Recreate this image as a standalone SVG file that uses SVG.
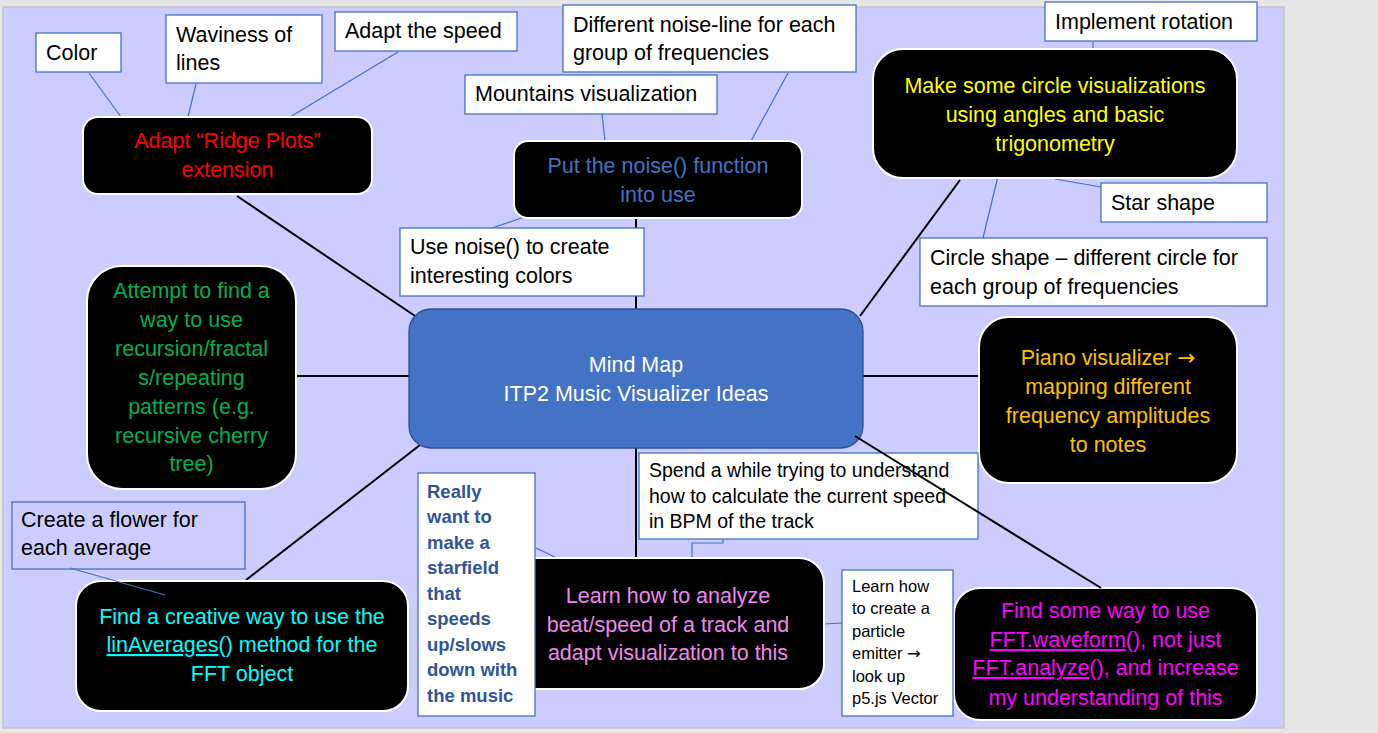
<svg xmlns="http://www.w3.org/2000/svg" width="1378" height="733" viewBox="0 0 1378 733">
<style>
text{font-family:"Liberation Sans",Arial,sans-serif;font-size:21.5px}
.mid{text-anchor:middle}
.blk{fill:#000;stroke:#fff;stroke-width:2}
.box{fill:#fff;stroke:#4472C4;stroke-width:1.3}
.bl{stroke:#000;stroke-width:2;fill:none}
.tl{stroke:#4472C4;stroke-width:1.2;fill:none}
.dark{fill:#000}
.u{text-decoration:underline}
.arr{font-family:"DejaVu Sans",sans-serif}
</style>
<rect x="0" y="0" width="1378" height="733" fill="#E6E6E6"/>
<rect x="3" y="7" width="1281" height="721" fill="#CCCCFF" stroke="#C4C4C4" stroke-width="1.5"/>

<g id="connectors">
<line class="bl" x1="237" y1="196" x2="421" y2="320"/>
<line class="bl" x1="636" y1="218" x2="636" y2="309"/>
<line class="bl" x1="860" y1="316" x2="960" y2="180"/>
<line class="bl" x1="296" y1="376" x2="409" y2="376"/>
<line class="bl" x1="863" y1="376" x2="979" y2="376"/>
<line class="bl" x1="420" y1="445" x2="246" y2="580"/>
<line class="bl" x1="636" y1="448" x2="636" y2="558"/>
<line class="tl" x1="89" y1="73" x2="121" y2="117"/>
<line class="tl" x1="196" y1="84" x2="188" y2="117"/>
<line class="tl" x1="398" y1="52" x2="290" y2="117"/>
<line class="tl" x1="602" y1="114" x2="605" y2="141"/>
<line class="tl" x1="788" y1="73" x2="751" y2="141"/>
<line class="tl" x1="527" y1="216" x2="492" y2="228"/>
<line class="tl" x1="1093" y1="42" x2="1093" y2="50"/>
<line class="tl" x1="1055" y1="179" x2="1101" y2="187"/>
<line class="tl" x1="998" y1="176" x2="983" y2="238"/>
<line class="tl" x1="536" y1="548" x2="557" y2="558"/>
<polyline class="tl" points="723,540 723,543 692,543 692,558"/>
<line class="tl" x1="824" y1="624" x2="842" y2="623"/>
</g>

<g id="center">
<rect x="409" y="309" width="454" height="139" rx="22" fill="#4472C4" stroke="#2F528F" stroke-width="1.3"/>
<text class="mid" x="636" y="372" fill="#fff">Mind Map</text>
<text class="mid" x="636" y="401" fill="#fff">ITP2 Music Visualizer Ideas</text>
</g>

<g id="ridge">
<rect class="blk" x="83" y="117" width="289" height="77" rx="15"/>
<text class="mid" x="227.5" y="148" fill="#FF0000">Adapt “Ridge Plots”</text>
<text class="mid" x="227.5" y="177" fill="#FF0000">extension</text>
</g>

<g id="noise">
<rect class="blk" x="514" y="141" width="288" height="77" rx="14"/>
<text class="mid" x="658" y="173" fill="#4472C4">Put the noise() function</text>
<text class="mid" x="658" y="202" fill="#4472C4">into use</text>
</g>

<g id="circle-viz">
<rect class="blk" x="873" y="49" width="364" height="129" rx="30"/>
<text class="mid" x="1055" y="93" fill="#FFFF00">Make some circle visualizations</text>
<text class="mid" x="1055" y="122" fill="#FFFF00">using angles and basic</text>
<text class="mid" x="1055" y="151" fill="#FFFF00">trigonometry</text>
</g>

<g id="piano">
<rect class="blk" x="979" y="317" width="258" height="166" rx="30"/>
<text class="mid" x="1108" y="365" fill="#FFC000">Piano visualizer <tspan class="arr">→</tspan></text>
<text class="mid" x="1108" y="394" fill="#FFC000">mapping different</text>
<text class="mid" x="1108" y="423" fill="#FFC000">frequency amplitudes</text>
<text class="mid" x="1108" y="452" fill="#FFC000">to notes</text>
</g>

<g id="fft">
<rect class="blk" x="954" y="588" width="303" height="132" rx="26"/>
<text class="mid" x="1105.5" y="618" fill="#FF00FF">Find some way to use</text>
<text class="mid" x="1105.5" y="647" fill="#FF00FF"><tspan class="u">FFT.waveform</tspan>(), not just</text>
<text class="mid" x="1105.5" y="675" fill="#FF00FF"><tspan class="u">FFT.analyze</tspan>(), and increase</text>
<text class="mid" x="1105.5" y="705" fill="#FF00FF">my understanding of this</text>
</g>

<g id="beat">
<rect class="blk" x="512" y="558" width="312" height="131" rx="25"/>
<text class="mid" x="668" y="603" fill="#EE88EE">Learn how to analyze</text>
<text class="mid" x="668" y="632" fill="#EE88EE">beat/speed of a track and</text>
<text class="mid" x="668" y="660" fill="#EE88EE">adapt visualization to this</text>
</g>

<g id="linaverages">
<rect class="blk" x="76" y="581" width="332" height="130" rx="25"/>
<text class="mid" x="242" y="624" fill="#00FFFF">Find a creative way to use the</text>
<text class="mid" x="242" y="652" fill="#00FFFF"><tspan class="u">linAverages</tspan>() method for the</text>
<text class="mid" x="242" y="681" fill="#00FFFF">FFT object</text>
</g>

<g id="recursion">
<rect class="blk" x="87" y="266" width="209" height="223" rx="35"/>
<text class="mid" x="191.5" y="298" fill="#00B050">Attempt to find a</text>
<text class="mid" x="191.5" y="327" fill="#00B050">way to use</text>
<text class="mid" x="191.5" y="356" fill="#00B050">recursion/fractal</text>
<text class="mid" x="191.5" y="385" fill="#00B050">s/repeating</text>
<text class="mid" x="191.5" y="414" fill="#00B050">patterns (e.g.</text>
<text class="mid" x="191.5" y="443" fill="#00B050">recursive cherry</text>
<text class="mid" x="191.5" y="471" fill="#00B050">tree)</text>
</g>

<g id="color">
<rect class="box" x="36" y="33" width="85" height="39"/>
<text x="46" y="60" class="dark">Color</text>
</g>
<g id="waviness">
<rect class="box" x="166" y="15" width="156" height="68"/>
<text x="176" y="42" class="dark">Waviness of</text>
<text x="176" y="70" class="dark">lines</text>
</g>
<g id="speed">
<rect class="box" x="335" y="12" width="182" height="39"/>
<text x="345" y="38" class="dark">Adapt the speed</text>
</g>
<g id="noise-line">
<rect class="box" x="563" y="5" width="293" height="67"/>
<text x="573" y="32" class="dark">Different noise-line for each</text>
<text x="573" y="60" class="dark">group of frequencies</text>
</g>
<g id="mountains">
<rect class="box" x="465" y="75" width="252" height="39"/>
<text x="475" y="101" class="dark">Mountains visualization</text>
</g>
<g id="noise-colors">
<rect class="box" x="400" y="228" width="244" height="68"/>
<text x="410" y="254" class="dark">Use noise() to create</text>
<text x="410" y="283" class="dark">interesting colors</text>
</g>
<g id="rotation">
<rect class="box" x="1045" y="2" width="212" height="39"/>
<text x="1055" y="29" class="dark">Implement rotation</text>
</g>
<g id="star">
<rect class="box" x="1101" y="183" width="166" height="39"/>
<text x="1111" y="210" class="dark">Star shape</text>
</g>
<g id="circle-shape">
<rect class="box" x="920" y="238" width="347" height="68"/>
<text x="930" y="265" class="dark">Circle shape – different circle for</text>
<text x="930" y="294" class="dark">each group of frequencies</text>
</g>
<g id="bpm">
<rect class="box" x="639" y="453" width="339" height="86"/>
<text x="649" y="477" class="dark" style="font-size:19.5px">Spend a while trying to understand</text>
<text x="649" y="503" class="dark" style="font-size:19.5px">how to calculate the current speed</text>
<text x="649" y="528" class="dark" style="font-size:19.5px">in BPM of the track</text>
</g>
<g id="particle">
<rect class="box" x="842" y="570" width="111" height="146"/>
<g class="dark">
<text x="852" y="592" style="font-size:16.5px">Learn how</text>
<text x="852" y="614" style="font-size:16.5px">to create a</text>
<text x="852" y="637" style="font-size:16.5px">particle</text>
<text x="852" y="659" style="font-size:16.5px">emitter <tspan class="arr">→</tspan></text>
<text x="852" y="682" style="font-size:16.5px">look up</text>
<text x="852" y="704" style="font-size:16.5px">p5.js Vector</text>
</g>
</g>
<g id="starfield">
<rect class="box" x="418" y="473" width="117" height="243"/>
<g fill="#2F5597" font-weight="bold">
<text x="427" y="498" style="font-size:18.5px">Really</text>
<text x="427" y="523" style="font-size:18.5px">want to</text>
<text x="427" y="549" style="font-size:18.5px">make a</text>
<text x="427" y="574" style="font-size:18.5px">starfield</text>
<text x="427" y="600" style="font-size:18.5px">that</text>
<text x="427" y="625" style="font-size:18.5px">speeds</text>
<text x="427" y="651" style="font-size:18.5px">up/slows</text>
<text x="427" y="676" style="font-size:18.5px">down with</text>
<text x="427" y="702" style="font-size:18.5px">the music</text>
</g>
</g>
<g id="flower">
<rect x="12" y="502" width="233" height="67" fill="none" stroke="#4472C4" stroke-width="1.3"/>
<text x="21" y="527" class="dark">Create a flower for</text>
<text x="21" y="555" class="dark">each average</text>
</g>

<g id="connectors-top">
<line class="bl" x1="855" y1="436" x2="1101" y2="588"/>
<line class="tl" x1="70" y1="568" x2="165" y2="595"/>
</g>
</svg>
